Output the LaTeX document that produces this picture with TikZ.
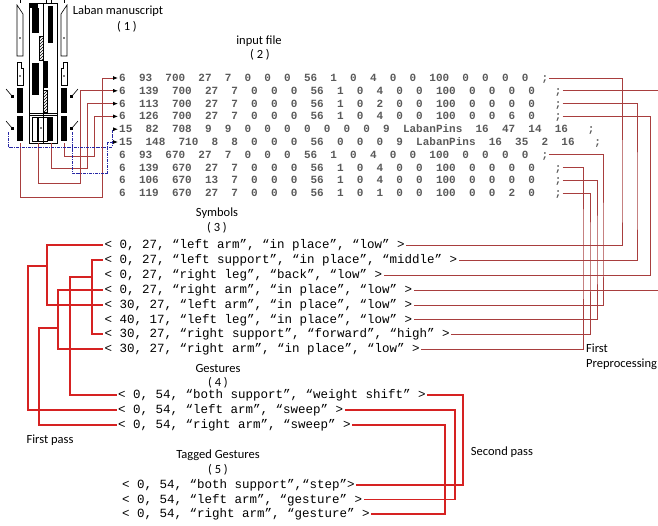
\documentclass[tikz,border=0pt]{standalone}
\usepackage{fontspec}
\setmainfont{Carlito}
\setmonofont{Liberation Mono}
\usetikzlibrary{arrows.meta}
\usetikzlibrary{patterns}

\definecolor{fileRed}{RGB}{168,62,62}
\definecolor{passRed}{RGB}{214,34,34}
\definecolor{pinBlue}{RGB}{40,40,165}
\definecolor{fileGray}{RGB}{90,90,90}

\begin{document}
\begin{tikzpicture}[line cap=butt,line join=miter,>={Latex[length=5pt,width=4pt,color=black]},x=1pt,y=1pt,
    title/.style={font=\fontsize{12.5}{15}\selectfont, inner sep=0pt},
    inrow/.style={anchor=west, inner sep=1pt, text=fileGray, font=\fontsize{11}{13}\ttfamily\bfseries, text height=7pt, text depth=0pt},
    symrow/.style={anchor=west, inner sep=1.5pt, font=\fontsize{12.5}{14}\ttfamily, text height=7.5pt, text depth=0.5pt},
    manline/.style={draw=fileRed, line width=0.8pt},
    pinline/.style={draw=pinBlue, line width=0.8pt, densely dash dot},
    fileline/.style={draw=fileRed, line width=0.8pt},
    passline/.style={draw=passRed, line width=1.7pt}]
                        \useasboundingbox (0,0) rectangle (658,-525);

                        % Laban manuscript
                        \draw [line width=0.6pt] (29,-3) rectangle (57,-143);
                        \draw [line width=0.6pt] (43,-3) -- (43,-143);
                        \draw [line width=0.6pt] (29,-113) -- (57,-113);
                        \draw [line width=0.6pt] (29,-115) -- (57,-115);
                        \draw [line width=0.6pt] (20,0) -- (20,-3);
                        \draw [line width=0.6pt] (46,0) -- (46,-3);
                        \draw [line width=0.6pt] (51,0) -- (51,-3);
                        \draw [line width=0.6pt] (64,0) -- (64,-3);

                        \draw [line width=0.6pt] (17,-5) -- (23,-14) -- (23,-56) -- (17,-56) -- cycle;
                        \fill (20,-38) circle (0.9);
                        \draw [line width=0.6pt] (17,-62) -- (21,-62) -- (21,-68) -- (23,-68) -- (23,-85) -- (17,-85) -- cycle;
                        \fill (20,-76) circle (0.9);
                        \fill (17,-88) rectangle (23,-113);
                        \fill (17,-116) rectangle (23,-141);

                        \draw [line width=0.6pt] (67,-5) -- (61,-14) -- (61,-56) -- (67,-56) -- cycle;
                        \fill (64,-38) circle (0.9);
                        \draw [line width=0.6pt] (67,-62) -- (63,-62) -- (63,-68) -- (61,-68) -- (61,-85) -- (67,-85) -- cycle;
                        \fill (64,-76) circle (0.9);
                        \fill (61,-88) rectangle (67,-113);
                        \fill (61,-116) rectangle (67,-141);

                        \fill (30,-3) rectangle (38,-8);
                        \fill (32,-8) rectangle (39,-33);
                        \fill (48,-6) rectangle (53,-43);
                        \draw [line width=0.5pt, pattern=north east lines] (39,-36) rectangle (43,-60);
                        \fill (43,-61) rectangle (48,-88);
                        \fill (32,-63) rectangle (39,-95);
                        \draw [line width=0.5pt, pattern=north east lines] (43,-90) rectangle (47,-112);
                        \draw [line width=0.6pt] (32,-117) rectangle (37,-141);
                        \draw [line width=0.6pt] (38,-117) rectangle (47,-141);
                        \fill (41,-128) circle (0.9);
                        \fill (48,-117) rectangle (53,-141);

                        \draw [line width=0.6pt] (6,-89) -- (12,-96);
                        \fill (11,-95) rectangle (14,-98);
                        \draw [line width=0.6pt] (78,-89) -- (72,-96);
                        \fill (73,-95) rectangle (70,-98);
                        \draw [line width=0.6pt] (6,-121) -- (12,-128);
                        \fill (11,-127) rectangle (14,-130);
                        \draw [line width=0.6pt] (78,-121) -- (72,-128);
                        \fill (73,-127) rectangle (70,-130);

                        \coordinate (colL) at (20,-143);
                        \coordinate (staffL) at (38,-143);
                        \coordinate (staffR) at (51,-143);
                        \coordinate (colR) at (64,-143);
                        \coordinate (pinL) at (8,-132);
                        \coordinate (pinR) at (72,-132);

                        \node[title] (manT) at (118,-11) {Laban manuscript};
                        \node[title] (manN) at (127,-27) {( 1 )};

                        % input file
                        \node[title] (inT) at (259,-41) {input file};
                        \node[title] (inN) at (260,-55) {( 2 )};

                        \node[inrow] (in1) at (118,-78) {6~~93~~700~~27~~7~~0~~0~~0~~56~~1~~0~~4~~0~~0~~100~~0~~0~~0~~0~~;};
                        \node[inrow] (in2) at (118,-90.8) {6~~139~~700~~27~~7~~0~~0~~0~~56~~1~~0~~4~~0~~0~~100~~0~~0~~0~~0~~~;};
                        \node[inrow] (in3) at (118,-103.6) {6~~113~~700~~27~~7~~0~~0~~0~~56~~1~~0~~2~~0~~0~~100~~0~~0~~0~~0~~~;};
                        \node[inrow] (in4) at (118,-116.4) {6~~126~~700~~27~~7~~0~~0~~0~~56~~1~~0~~4~~0~~0~~100~~0~~0~~6~~0~~~;};
                        \node[inrow] (in5) at (118,-129.2) {15~~82~~708~~9~~9~~0~~0~~0~~0~~0~~0~~0~~9~~LabanPins~~16~~47~~14~~16~~~;};
                        \node[inrow] (in6) at (118,-142) {15~~148~~710~~8~~8~~0~~0~~0~~56~~0~~0~~0~~9~~LabanPins~~16~~35~~2~~16~~~;};
                        \node[inrow] (in7) at (118,-154.8) {6~~93~~670~~27~~7~~0~~0~~0~~56~~1~~0~~4~~0~~0~~100~~0~~0~~0~~0~~;};
                        \node[inrow] (in8) at (118,-167.6) {6~~139~~670~~27~~7~~0~~0~~0~~56~~1~~0~~4~~0~~0~~100~~0~~0~~0~~0~~~;};
                        \node[inrow] (in9) at (118,-180.4) {6~~106~~670~~13~~7~~0~~0~~0~~56~~1~~0~~4~~0~~0~~100~~0~~0~~0~~0~~~;};
                        \node[inrow] (in10) at (118,-193.2) {6~~119~~670~~27~~7~~0~~0~~0~~56~~1~~0~~1~~0~~0~~100~~0~~0~~2~~0~~~;};

                        \draw [manline,->] (colL) |- (102,-197) |- (in1.west);
                        \draw [manline,->] (staffL) |- (80,-183) |- (in2.west);
                        \draw [manline,->] (staffR) |- (87,-168) |- (in3.west);
                        \draw [manline,->] (colR) |- (94,-156) |- (in4.west);
                        \draw [pinline,->] (pinL) |- (112,-147) |- (in5.west);
                        \draw [pinline,->] (pinR) |- (107,-173) |- (in6.west);

                        % symbols
                        \node[title] (symT) at (217,-213) {Symbols};
                        \node[title] (symN) at (217,-228) {( 3 )};

                        \node[symrow] (s1) at (103,-245) {< 0, 27, “left arm”, “in place”, “low” >};
                        \node[symrow] (s2) at (103,-260) {< 0, 27, “left support”, “in place”, “middle” >};
                        \node[symrow] (s3) at (103,-275) {< 0, 27, “right leg”, “back”, “low” >};
                        \node[symrow] (s4) at (103,-290) {< 0, 27, “right arm”, “in place”, “low” >};
                        \node[symrow] (s5) at (103,-305) {< 30, 27, “left arm”, “in place”, “low” >};
                        \node[symrow] (s6) at (103,-319.5) {< 40, 17, “left leg”, “in place”, “low” >};
                        \node[symrow] (s7) at (103,-334) {< 30, 27, “right support”, “forward”, “high” >};
                        \node[symrow] (s8) at (103,-349) {< 30, 27, “right arm”, “in place”, “low” >};

                        \coordinate (edgeIn) at (658,-90.8);
                        \coordinate (edgeSym) at (658,-290);

                        \draw [fileline] (in1.east) -| (622,-200) |- (s1.east);
                        \draw [fileline] (in2.east) -- (edgeIn);
                        \draw [fileline] (in3.east) -| (637,-200) |- (s2.east);
                        \draw [fileline] (in4.east) -| (650,-200) |- (s3.east);
                        \draw [fileline] (s4.east) -- (edgeSym);
                        \draw [fileline] (in7.east) -| (603,-250) |- (s5.east);
                        \draw [fileline] (in8.east) -| (583,-250) |- (s8.east);
                        \draw [fileline] (in9.east) -| (597,-250) |- (s6.east);
                        \draw [fileline] (in10.east) -| (590,-250) |- (s7.east);

                        \node[title, anchor=west, align=left] (firstPre) at (586,-356.5) {First\\Preprocessing};

                        % gestures
                        \node[title] (gesT) at (218,-368) {Gestures};
                        \node[title] (gesN) at (218,-383) {( 4 )};

                        \node[symrow] (g1) at (116.5,-395) {< 0, 54, “both support”, “weight shift” >};
                        \node[symrow] (g2) at (116.5,-410) {< 0, 54, “left arm”, “sweep” >};
                        \node[symrow] (g3) at (116.5,-425) {< 0, 54, “right arm”, “sweep” >};

                        \coordinate (armL) at (47,-266);
                        \coordinate (supp) at (92,-277);
                        \coordinate (armR) at (58,-328);

                        \draw [passline] (s1.west) -| (47,-280) |- (s5.west);
                        \draw [passline] (armL) -| (28,-300) |- (g2.west);
                        \draw [passline] (s2.west) -| (92,-300) |- (s7.west);
                        \draw [passline] (supp) -| (70,-300) |- (g1.west);
                        \draw [passline] (s4.west) -| (58,-320) |- (s8.west);
                        \draw [passline] (armR) -| (39,-380) |- (g3.west);

                        \node[title] (firstPass) at (50,-440) {First pass};

                        % tagged gestures
                        \node[title] (tagT) at (218,-455) {Tagged Gestures};
                        \node[title] (tagN) at (218,-470) {( 5 )};

                        \node[symrow] (t1) at (120.5,-485) {< 0, 54, “both support”,“step”>};
                        \node[symrow] (t2) at (120.5,-499.5) {< 0, 54, “left arm”, “gesture” >};
                        \node[symrow] (t3) at (120.5,-514) {< 0, 54, “right arm”, “gesture” >};

                        \draw [passline] (g1.east) -| (463,-450) |- (t1.east);
                        \draw [passline] (g2.east) -| (455,-450) |- (t2.east);
                        \draw [passline] (g3.east) -| (445,-450) |- (t3.east);

                        \node[title] (secondPass) at (502,-452) {Second pass};
                    \end{tikzpicture}
\end{document}
